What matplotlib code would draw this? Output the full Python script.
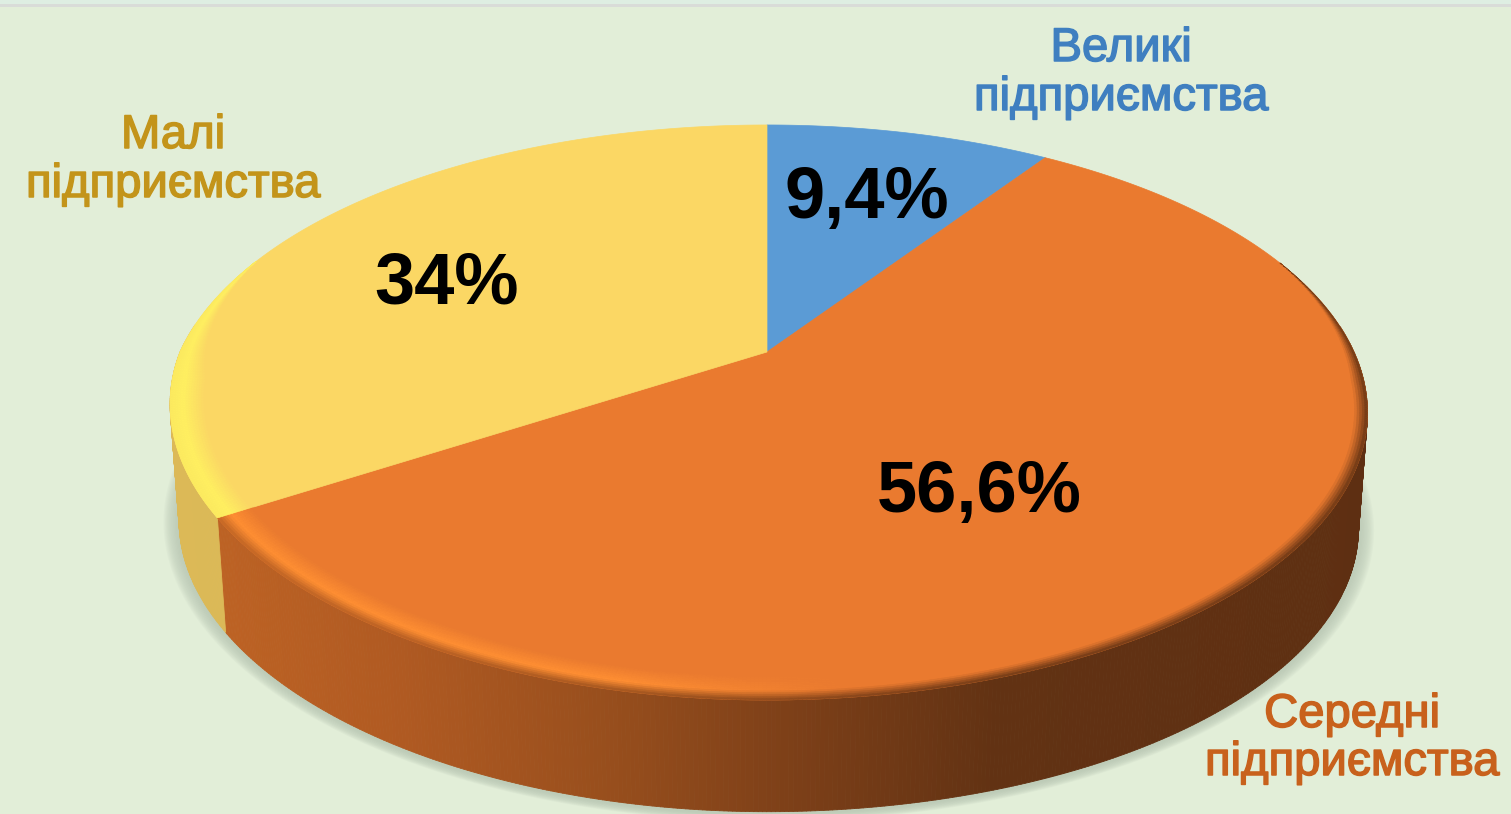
import numpy as np
import matplotlib
matplotlib.use('Agg')
import matplotlib.pyplot as plt
import matplotlib.patheffects as pe
from matplotlib.collections import PolyCollection
from matplotlib.colors import to_rgb

# дані: великі, середні, малі
names = [['Великі', 'підприємства'], ['Середні', 'підприємства'], ['Малі', 'підприємства']]
values = [9.4, 56.6, 34]
percents = ['9,4%', '56,6%', '34%']

face_colors = ['#5b9bd5', '#ea7a2f', '#fbd764']
name_colors = ['#3f7fc0', '#c8611c', '#c3941a']
side_colors = ['#4a7fae', None, '#dcb957']
hl_colors = ['#5b9bd5', '#ff8f33', '#fff060']

bg = '#e2eed8'
cx, cy = 767, 412
a, b, k, y0 = 587, 372, 0.2104, 462
depth, shrink = 116, 0.985


def rim(theta, r=1.0):
    # кут за годинниковою стрілкою від верху, перспектива круга
    u = r * np.sin(theta)
    v = r * np.cos(theta)
    d = 1 + k * v
    # зліва знизу край трохи вужчий
    sq = np.where(u < 0, 1 + 0.03 * np.minimum(v, 0), 1.0)
    return cx + a * u * sq / d, 814 - (b * v + y0) / d


def low(x, y, grow=0):
    s = shrink + grow
    return cx + (x - cx) * s, cy + (y - cy) * s + depth


def side_orange(x):
    xs = [200, 400, 600, 800, 1000, 1400]
    r = np.interp(x, xs, [0xbe, 0xb0, 0x99, 0x7c, 0x62, 0x5e]) / 255
    g = np.interp(x, xs, [0x63, 0x5a, 0x4f, 0x3f, 0x32, 0x2f]) / 255
    c = np.interp(x, xs, [0x24, 0x22, 0x1d, 0x18, 0x13, 0x12]) / 255
    return np.array([r, g, c])


fig = plt.figure(figsize=(15.11, 8.14), dpi=100, facecolor=bg)
ax = fig.add_axes([0, 0, 1, 1])
ax.set_xlim(0, 1511)
ax.set_ylim(814, 0)
ax.axis('off')

# верхня смужка
ax.fill_between([0, 1511], 0, 4, color='#deeee2', lw=0)
ax.fill_between([0, 1511], 4, 7, color='#d9dcd8', lw=0)

# тінь під діаграмою
t_all = np.linspace(0, 2 * np.pi, 400)
x_all, y_all = rim(t_all)
for i in range(14):
    sx, sy = low(x_all, y_all, grow=0.026 - i * 0.002)
    ax.fill(sx, sy + 2, color='#b9c8b4', alpha=0.11, lw=0, zorder=1)

edges = np.cumsum([0] + values) / 100 * 2 * np.pi

# бокова стінка
quads, cols = [], []
for i in range(len(values)):
    n = max(int((edges[i + 1] - edges[i]) / 0.006), 2)
    ts = np.linspace(edges[i], edges[i + 1], n)
    for t0, t1 in zip(ts[:-1], ts[1:]):
        if np.cos(t0) > 0.1:
            continue
        x1, y1 = rim(np.array([t0, t1]))
        x2, y2 = low(x1, y1)
        quads.append([(x1[0], y1[0]), (x1[1], y1[1]), (x2[1], y2[1]), (x2[0], y2[0])])
        if side_colors[i] is None:
            cols.append(side_orange(x1[0]))
        else:
            cols.append(to_rgb(side_colors[i]))
ax.add_collection(PolyCollection(quads, facecolors=cols, edgecolors=cols, linewidths=0.6, zorder=2))

# верхні сектори
for i in range(len(values)):
    ts = np.linspace(edges[i], edges[i + 1], 200)
    x, y = rim(ts)
    ax.fill(np.r_[rim(0, 0)[0], x], np.r_[rim(0, 0)[1], y], color=face_colors[i], lw=0.5, zorder=3)

# скіс по краю
quads, cols = [], []
steps = 14
band = 0.058
for i in range(1, len(values)):
    n = max(int((edges[i + 1] - edges[i]) / 0.006), 2)
    ts = np.linspace(edges[i], edges[i + 1], n)
    face = np.array(to_rgb(face_colors[i]))
    hl = np.array(to_rgb(hl_colors[i]))
    for t0, t1 in zip(ts[:-1], ts[1:]):
        xm, _ = rim(t0)
        power = np.clip((0.35 - np.cos(t0)) / 0.45, 0, 1)
        if power <= 0:
            continue
        if side_colors[i] is None:
            side = side_orange(xm)
            h = hl + (face - hl) * np.clip((xm - 620) / 230, 0, 1)
        else:
            side = np.array(to_rgb(side_colors[i]))
            h = hl
        for j in range(steps):
            f = j / steps
            r0 = 1 - band * power * (1 - f)
            r1 = 1 - band * power * (1 - (j + 1) / steps)
            if f < 0.6:
                c = face + (h - face) * (f / 0.6)
            else:
                c = h + (side - h) * ((f - 0.6) / 0.4) * (1 if i == 1 else 0.1)
            xa, ya = rim(np.array([t0, t1]), r0)
            xb, yb = rim(np.array([t0, t1]), r1)
            quads.append([(xa[0], ya[0]), (xa[1], ya[1]), (xb[1], yb[1]), (xb[0], yb[0])])
            cols.append(c)
ax.add_collection(PolyCollection(quads, facecolors=cols, edgecolors=cols, linewidths=0.4, zorder=4))

font = ['Liberation Sans', 'DejaVu Sans']

# підписи
name_pos = [(1121, 61, 110), (1352, 727, 775), (173, 148, 197)]
for i in range(3):
    px, b1, b2 = name_pos[i]
    for line, base in zip(names[i], (b1, b2)):
        ax.text(px, base, line, color=name_colors[i], fontsize=34, family=font,
                ha='center', va='baseline', zorder=6,
                path_effects=[pe.withStroke(linewidth=1.1, foreground=name_colors[i])])

pct_pos = [(867, 218), (979, 512), (447, 303)]
for i in range(3):
    ax.text(pct_pos[i][0], pct_pos[i][1], percents[i], color='black', fontsize=52,
            fontweight='bold', family=font, ha='center', va='baseline', zorder=6)

fig.savefig('out.png', dpi=100, facecolor=bg)
